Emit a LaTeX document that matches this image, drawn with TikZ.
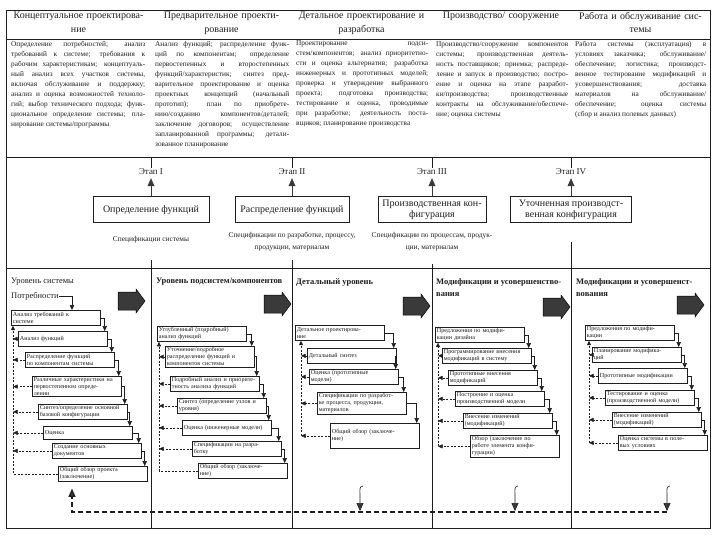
\documentclass[tikz,border=0pt]{standalone}
\usepackage{fontspec}
\setmainfont{Liberation Serif}
\usepackage{tikz}
\usetikzlibrary{arrows.meta, positioning, calc}
\definecolor{scanink}{HTML}{1E1E1E}
\definecolor{darkfill}{HTML}{3A3A3A}

\begin{document}
\begin{tikzpicture}[x=1pt, y=-1pt,
    every node/.style={text=scanink},
    rule/.style={draw=scanink, line width=0.8pt},
    hdr/.style={font=\fontsize{10}{13.5}\selectfont, align=center, text width=134pt, inner sep=0pt, anchor=north},
    cell/.style={font=\fontsize{7.3}{10}\selectfont, align=justify, text width=134pt, inner sep=0pt, anchor=north west},
    stagelbl/.style={font=\fontsize{9}{11}\selectfont, inner sep=1pt},
    stagebox/.style={draw=scanink, line width=0.8pt, minimum width=116pt, minimum height=26pt, inner sep=2pt, align=center, font=\fontsize{10}{11.5}\selectfont},
    spec/.style={font=\fontsize{7.4}{12}\selectfont, align=center, inner sep=0pt},
    stagetip/.style={draw=darkfill, line width=0.6pt, -{Triangle[length=8pt, width=7pt]}, shorten >=2pt},
    lvl/.style={font=\bfseries\fontsize{8.5}{12.5}\selectfont, anchor=north west, align=left, inner sep=0pt},
    blockarr/.pic={\filldraw[draw=black, line width=0.5pt, fill=darkfill] (-13,-9) -- (5,-9) -- (5,-12) -- (14,0) -- (5,12) -- (5,9) -- (-13,9) -- cycle;},
    stepbox/.style={draw=scanink, line width=0.7pt, fill=white, anchor=north west, text width=86pt, inner xsep=1.5pt, inner ysep=1.2pt, align=left, font=\fontsize{6.1}{7}\selectfont, minimum height=15pt},
    flow/.style={draw=scanink, line width=0.6pt, -{Triangle[length=5pt, width=4.5pt]}},
    fback/.style={draw=scanink, line width=0.5pt, dash pattern=on 2pt off 1.5pt, -{Triangle[length=4.5pt, width=4pt]}},
    fbtail/.style={draw=scanink, line width=0.5pt, dash pattern=on 2pt off 1.5pt},
    retline/.style={draw=scanink, line width=1.1pt, dash pattern=on 5pt off 3pt},
    drop/.style={draw=scanink, line width=0.6pt, -{Triangle[length=8pt, width=7pt, fill=darkfill]}}
]
    \useasboundingbox (0,0) rectangle (720,540);

    % Frame and table
    \draw[rule] (6,10) rectangle (710,528);
    \draw[rule] (6,39) -- (710,39);
    \draw[rule] (6,157) -- (710,157);
    \draw[rule] (6,268) -- (710,268);

    \node[hdr] (h1) at (78.5,12) {Концептуальное проектирова-\\ние};
    \node[hdr] (h2) at (221.5,12) {Предварительное проекти-\\рование};
    \node[hdr] (h3) at (361.5,12) {Детальное проектирование и\\разработка};
    \node[hdr] (h4) at (501,12) {Производство/ сооружение};
    \node[hdr] (h5) at (640.5,12) {Работа и обслуживание сис-\\темы};

    \node[cell] (t1) at (11,41) {Определение потребностей; анализ\linebreak требований к системе; требования к\linebreak рабочим характеристикам; концептуаль-\linebreak ный анализ всех участков системы,\linebreak включая обслуживание и поддержку;\linebreak анализ и оценка возможностей техноло-\linebreak гий; выбор технического подхода; функ-\linebreak циональное определение системы; пла-\linebreak нирование системы/программы};
    \node[cell] (t2) at (155,41) {Анализ функций; распределение функ-\linebreak ций по компонентам; определение\linebreak первостепенных и второстепенных\linebreak функций/характеристик; синтез пред-\linebreak варительное проектирование и оценка\linebreak проектных концепций (начальный\linebreak прототип); план по приобрете-\linebreak нию/созданию компонентов/деталей;\linebreak заключение договоров; осуществление\linebreak запланированной программы; детали-\linebreak зованное планирование};
    \node[cell, text width=132pt] (t3) at (296,41) {Проектирование подси-\linebreak стем/компонентов; анализ приоритетно-\linebreak сти и оценка альтернатив; разработка\linebreak инженерных и прототипных моделей;\linebreak проверка и утверждение выбранного\linebreak проекта; подготовка производства;\linebreak тестирование и оценка, проводимые\linebreak при разработке; деятельность поста-\linebreak вщиков; планирование производства};
    \node[cell, text width=132pt] (t4) at (436,41) {Производство/сооружение компонентов\linebreak системы; производственная деятель-\linebreak ность поставщиков; приемка; распреде-\linebreak ление и запуск в производство; постро-\linebreak ение и оценка на этапе разработ-\linebreak ки/производства; производственные\linebreak контракты на обслуживание/обеспече-\linebreak ние; оценка системы};
    \node[cell, text width=131pt] (t5) at (575,41) {Работа системы (эксплуатация) в\linebreak условиях заказчика; обслуживание/\linebreak обеспечение; логистика; производст-\linebreak венное тестирование модификаций и\linebreak усовершенствования; доставка\linebreak материалов на обслуживание/\linebreak обеспечение; оценка системы\linebreak (сбор и анализ полевых данных)};

    % Stages
    \node[stagelbl] (et1) at (151,172) {Этап I};
    \node[stagelbl] (et2) at (292,172) {Этап II};
    \node[stagelbl] (et3) at (432,172) {Этап III};
    \node[stagelbl] (et4) at (571,172) {Этап IV};

    \node[stagebox, below=20pt of et1] (sb1) {Определение функций};
    \node[stagebox, minimum width=114pt, below=20pt of et2] (sb2) {Распределение функций};
    \node[stagebox, minimum width=108pt, below=20pt of et3] (sb3) {Производственная кон-\\фигурация};
    \node[stagebox, minimum width=121pt, below=20pt of et4] (sb4) {Уточненная производст-\\венная конфигурация};

    \node[spec, below=13pt of sb1] (sp1) {Спецификации системы};
    \node[spec, below=9pt of sb2] (sp2) {Спецификации по разработке, процессу,\\продукции, материалам};
    \node[spec, below=9pt of sb3] (sp3) {Спецификации по процессам, продук-\\ции, материалам};

    \draw[rule, line width=0.5pt] (151,157) -- (et1.north);
    \draw[rule, line width=0.5pt] (292,157) -- (et2.north);
    \draw[rule, line width=0.5pt] (432,157) -- (et3.north);
    \draw[rule, line width=0.5pt] (571,157) -- (et4.north);
    \draw[stagetip] (sb1.north) -- (et1.south);
    \draw[stagetip] (sb2.north) -- (et2.south);
    \draw[stagetip] (sb3.north) -- (et3.south);
    \draw[stagetip] (sb4.north) -- (et4.south);

    % Lower columns
    \draw[rule] (151,260) -- (151,528);
    \draw[rule] (292,260) -- (292,528);
    \draw[rule] (432,264) -- (432,528);
    \draw[rule] (571,242) -- (571,528);

    \node[lvl, font=\fontsize{8.5}{12.5}\selectfont] (l1) at (11,278) {Уровень системы};
    \node[lvl] (l2) at (156,278) {Уровень подсистем/компонентов};
    \node[lvl] (l3) at (296,278) {Детальный уровень};
    \node[lvl] (l4) at (436,278) {Модификации и усовершенство-\\вания};
    \node[lvl] (l5) at (576,278) {Модификации и усовершенст-\\вования};
    \node[font=\fontsize{8.5}{10}\selectfont, anchor=north west, inner sep=0pt] (need) at (11,292) {Потребности};

    \pic (ba1) at (131,301) {blockarr};
    \pic (ba2) at (277,304) {blockarr};
    \pic (ba3) at (416,306) {blockarr};
    \pic (ba4) at (556,307) {blockarr};
    \pic (ba5) at (690,305) {blockarr};

    % System level
    \node[stepbox] (s1) at (11,310) {Анализ требований к\\системе};
    \node[stepbox] (s2) at (18,331) {Анализ функций};
    \node[stepbox] (s3) at (25,352) {Распределение функций\\по компонентам системы};
    \node[stepbox] (s4) at (32,376) {Различные характеристики на\\первостепенном опреде-\\лении};
    \node[stepbox] (s5) at (38,404) {Синтез/определение основной\\базовой конфигурации};
    \node[stepbox, minimum height=13pt] (s6) at (43,426) {Оценка};
    \node[stepbox] (s7) at (52,443) {Создание основных\\документов};
    \node[stepbox] (s8) at (58,466) {Общий обзор проекта\\(заключение)};

    \draw[flow] (need.east) -| ($(s1.north west)+(61,0)$);
    \draw[flow] (s1.east) -| ($(s2.north east)+(-3,0)$);
    \draw[flow] (s2.east) -| ($(s3.north east)+(-3,0)$);
    \draw[flow] (s3.east) -| ($(s4.north east)+(-3,0)$);
    \draw[flow] (s4.east) -| ($(s5.north east)+(-3,0)$);
    \draw[flow] (s5.east) -| ($(s6.north east)+(-3,0)$);
    \draw[flow] (s6.east) -| ($(s7.north east)+(-3,0)$);
    \draw[flow] (s7.east) -| ($(s8.north east)+(-3,0)$);

    \coordinate (fbS) at (13,0);
    \draw[fback] (s8.west) -| (s1.south -| fbS);
    \draw[fback] (s2.west) -- (s2.west -| fbS);
    \draw[fback] (s3.west) -- (s3.west -| fbS);
    \draw[fback] (s4.west) -- (s4.west -| fbS);
    \draw[fback] (s5.west) -- (s5.west -| fbS);
    \draw[fback] (s6.west) -- (s6.west -| fbS);
    \draw[fback] (s7.west) -- (s7.west -| fbS);

    % Subsystem level
    \node[stepbox] (p1) at (157,326) {Углубленный (подробный)\\анализ функций};
    \node[stepbox] (p2) at (165,346) {Уточнение/подробное\\распределение функций и\\компонентов системы};
    \node[stepbox] (p3) at (170,376) {Подробный анализ и приорите-\\тность анализа функций};
    \node[stepbox] (p4) at (177,398) {Синтез (определение узлов и\\уровня)};
    \node[stepbox] (p5) at (182,420) {Оценка (инженерные модели)};
    \node[stepbox] (p6) at (192,441) {Спецификации на разра-\\ботку};
    \node[stepbox] (p7) at (198,463) {Общий обзор (заключе-\\ние)};

    \draw[flow] (p1.east) -| ($(p2.north east)+(-3,0)$);
    \draw[flow] (p2.east) -| ($(p3.north east)+(-3,0)$);
    \draw[flow] (p3.east) -| ($(p4.north east)+(-3,0)$);
    \draw[flow] (p4.east) -| ($(p5.north east)+(-3,0)$);
    \draw[flow] (p5.east) -| ($(p6.north east)+(-3,0)$);
    \draw[flow] (p6.east) -| ($(p7.north east)+(-3,0)$);

    \coordinate (fbP) at (159,0);
    \draw[fback] (p7.west) -| (p1.south -| fbP);
    \draw[fback] (p2.west) -- (p2.west -| fbP);
    \draw[fback] (p3.west) -- (p3.west -| fbP);
    \draw[fback] (p4.west) -- (p4.west -| fbP);
    \draw[fback] (p5.west) -- (p5.west -| fbP);
    \draw[fback] (p6.west) -- (p6.west -| fbP);

    % Detailed level
    \node[stepbox] (d1) at (295,325) {Детальное проектирова-\\ние};
    \node[stepbox] (d2) at (307,348) {Детальный синтез};
    \node[stepbox] (d3) at (309,369) {Оценка (прототипные\\модели)};
    \node[stepbox] (d4) at (317,392) {Спецификации по разработ-\\ке процесса, продукции,\\материалов};
    \node[stepbox, minimum height=25pt] (d5) at (330,423) {Общий обзор (заключе-\\ние)};

    \draw[flow] (d1.east) -| ($(d2.north east)+(-3,0)$);
    \draw[flow] (d2.east) -| ($(d3.north east)+(-3,0)$);
    \draw[flow] (d3.east) -| ($(d4.north east)+(-3,0)$);
    \draw[flow] (d4.east) -| ($(d5.north east)+(-3,0)$);

    \coordinate (fbD) at (301,0);
    \draw[fbtail, -{Triangle[length=4.5pt, width=4pt]}] (d5.west -| fbD) -- (d1.south -| fbD);
    \draw[fback] (d2.west) -- (d2.west -| fbD);
    \draw[fback] (d3.west) -- (d3.west -| fbD);
    \draw[fback] (d4.west) -- (d4.west -| fbD);
    \draw[fback] (d5.west) -- (d5.west -| fbD);

    % Modifications (production)
    \node[stepbox] (m1) at (435,327) {Предложения по модифи-\\кации дизайна};
    \node[stepbox] (m2) at (442,348) {Программирование внесения\\модификаций в систему};
    \node[stepbox] (m3) at (448,370) {Прототипные внесения\\модификаций};
    \node[stepbox] (m4) at (455,391) {Построение и оценка\\производственной модели};
    \node[stepbox] (m5) at (463,413) {Внесение изменений\\(модификаций)};
    \node[stepbox] (m6) at (470,435) {Обзор (заключение по\\работе элемента конфи-\\гурации)};

    \draw[flow] (m1.east) -| ($(m2.north east)+(-3,0)$);
    \draw[flow] (m2.east) -| ($(m3.north east)+(-3,0)$);
    \draw[flow] (m3.east) -| ($(m4.north east)+(-3,0)$);
    \draw[flow] (m4.east) -| ($(m5.north east)+(-3,0)$);
    \draw[flow] (m5.east) -| ($(m6.north east)+(-3,0)$);

    \coordinate (fbM) at (438,0);
    \draw[fbtail, -{Triangle[length=4.5pt, width=4pt]}] (m6.west -| fbM) -- (m1.south -| fbM);
    \draw[fback] (m2.west) -- (m2.west -| fbM);
    \draw[fback] (m3.west) -- (m3.west -| fbM);
    \draw[fback] (m4.west) -- (m4.west -| fbM);
    \draw[fback] (m5.west) -- (m5.west -| fbM);
    \draw[fback] (m6.west) -- (m6.west -| fbM);

    % Modifications (operation)
    \node[stepbox] (n1) at (585,325) {Предложения по модифи-\\кации};
    \node[stepbox] (n2) at (592,347) {Планирование модифика-\\ций};
    \node[stepbox] (n3) at (598,368) {Прототипные модификации};
    \node[stepbox] (n4) at (605,390) {Тестирование и оценка\\(производственной модели)};
    \node[stepbox] (n5) at (612,412) {Внесение изменений\\(модификаций)};
    \node[stepbox] (n6) at (618,435) {Оценка системы в поле-\\вых условиях};

    \draw[flow] (n1.east) -| ($(n2.north east)+(-3,0)$);
    \draw[flow] (n2.east) -| ($(n3.north east)+(-3,0)$);
    \draw[flow] (n3.east) -| ($(n4.north east)+(-3,0)$);
    \draw[flow] (n4.east) -| ($(n5.north east)+(-3,0)$);
    \draw[flow] (n5.east) -| ($(n6.north east)+(-3,0)$);

    \coordinate (fbN) at (589,0);
    \draw[fbtail, -{Triangle[length=4.5pt, width=4pt]}] (n6.west -| fbN) -- (n1.south -| fbN);
    \draw[fback] (n2.west) -- (n2.west -| fbN);
    \draw[fback] (n3.west) -- (n3.west -| fbN);
    \draw[fback] (n4.west) -- (n4.west -| fbN);
    \draw[fback] (n5.west) -- (n5.west -| fbN);
    \draw[fback] (n6.west) -- (n6.west -| fbN);

    % Return line
    \coordinate (ret) at (667,512);
    \draw[retline, -{Triangle[length=8pt, width=7pt, fill=darkfill]}] (ret) -| ($(s8.south west)+(14,7)$);
    \coordinate (dr1) at (360,511);
    \coordinate (dr2) at (515,511);
    \coordinate (dr3) at (667,511);
    \draw[drop] ($(dr1)+(3,-25)$) .. controls ($(dr1)+(-1,-25)$) and ($(dr1)+(0,-20)$) .. ($(dr1)+(0,-17)$) -- (dr1);
    \draw[drop] ($(dr2)+(3,-25)$) .. controls ($(dr2)+(-1,-25)$) and ($(dr2)+(0,-20)$) .. ($(dr2)+(0,-17)$) -- (dr2);
    \draw[drop] ($(dr3)+(3,-25)$) .. controls ($(dr3)+(-1,-25)$) and ($(dr3)+(0,-20)$) .. ($(dr3)+(0,-17)$) -- (dr3);
\end{tikzpicture}
\end{document}
